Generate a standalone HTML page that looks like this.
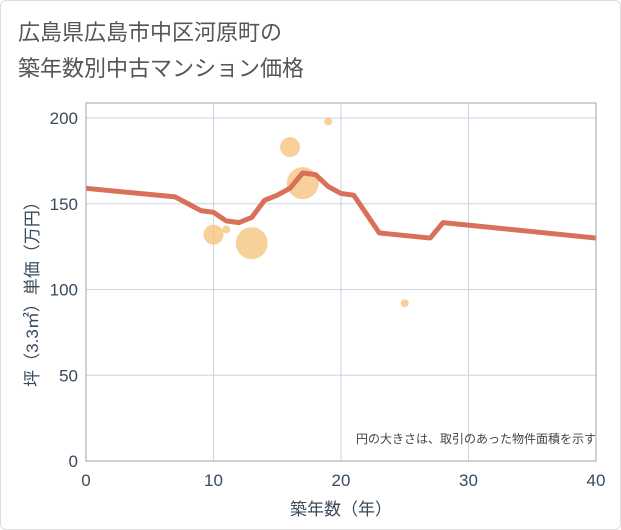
<!DOCTYPE html>
<html><head><meta charset="utf-8"><style>
body{margin:0;background:#fff;font-family:"Liberation Sans","Noto Sans CJK JP",sans-serif;}
#wrap{position:absolute;left:0;top:0;width:619px;height:528px;border:1px solid #ddd;border-radius:6px;background:#fff;}
</style></head><body>
<div id="wrap">
<svg width="621" height="530" style="position:absolute;left:-1px;top:-1px">
<text x="18" y="40" font-size="22" fill="#555">広島県広島市中区河原町の</text>
<text x="18" y="76" font-size="22" fill="#555">築年数別中古マンション価格</text>
<g id="grid"></g><g id="bubbles"></g><g id="line"></g><g id="axes"></g>
<text x="596" y="443" font-size="12" fill="#444" text-anchor="end">円の大きさは、取引のあった物件面積を示す</text>
<text x="341" y="515" font-size="17" fill="#3a4a5c" text-anchor="middle">築年数（年）</text>
<text transform="translate(38,290) rotate(-90)" font-size="17" fill="#3a4a5c" text-anchor="middle">坪（3.3㎡）単価（万円）</text>
</svg></div>
<script>
const xTicks=[0,10,20,30,40];
const yTicks=[0,50,100,150,200];
const lineYears=[0,7,8,9,10,11,12,13,14,15,16,17,18,19,20,21,22,23,27,28,40];
const linePrices=[159,154,150,146,145,140,139,142,152,155,159,168,167,160,156,155,144,133,130,139,130];
const bubbleYears=[10,11,13,16,17,19,25];
const bubblePrices=[132,135,127,183,162,198,92];
const bubbleRadii=[10,4,16,10,16,4,4];
const L=86,R=596,T=103,B=461;
const sx=v=>L+(R-L)*v/40, sy=v=>B-(B-118)*v/200;
const NS="http://www.w3.org/2000/svg";
function mk(tag,attrs,parent){const e=document.createElementNS(NS,tag);for(const k in attrs)e.setAttribute(k,attrs[k]);document.getElementById(parent).appendChild(e);return e;}
xTicks.forEach(t=>{
 const g=mk('line',{x1:sx(t),x2:sx(t),y1:T,y2:B,stroke:'#c9d5e3','stroke-width':1},'grid');
 
 
 const tx=mk('text',{x:sx(t),y:B+25,'font-size':17,fill:'#3a4a5c','text-anchor':'middle'},'axes');tx.textContent=t;
 
 
});
yTicks.forEach(t=>{
 const g=mk('line',{x1:L,x2:R,y1:sy(t),y2:sy(t),stroke:'#c9d5e3','stroke-width':1},'grid');
 
 
 const tx=mk('text',{x:L-8,y:sy(t)+6,'font-size':17,fill:'#3a4a5c','text-anchor':'end'},'axes');tx.textContent=t;
 
 
});
const fr=mk('rect',{x:L,y:T,width:R-L,height:B-T,fill:'none',stroke:'#99a4b0','stroke-width':1},'axes');


bubbleYears.forEach((y,i)=>{
 const c=mk('circle',{cx:sx(y),cy:sy(bubblePrices[i]),r:bubbleRadii[i],fill:'#f5c67f','fill-opacity':0.8},'bubbles');
 
 
});
const p=mk('polyline',{points:lineYears.map((y,i)=>sx(y)+','+sy(linePrices[i])).join(' '),fill:'none',stroke:'#d9705a','stroke-width':5,'stroke-linejoin':'round'},'line');


</script>
</body></html>
